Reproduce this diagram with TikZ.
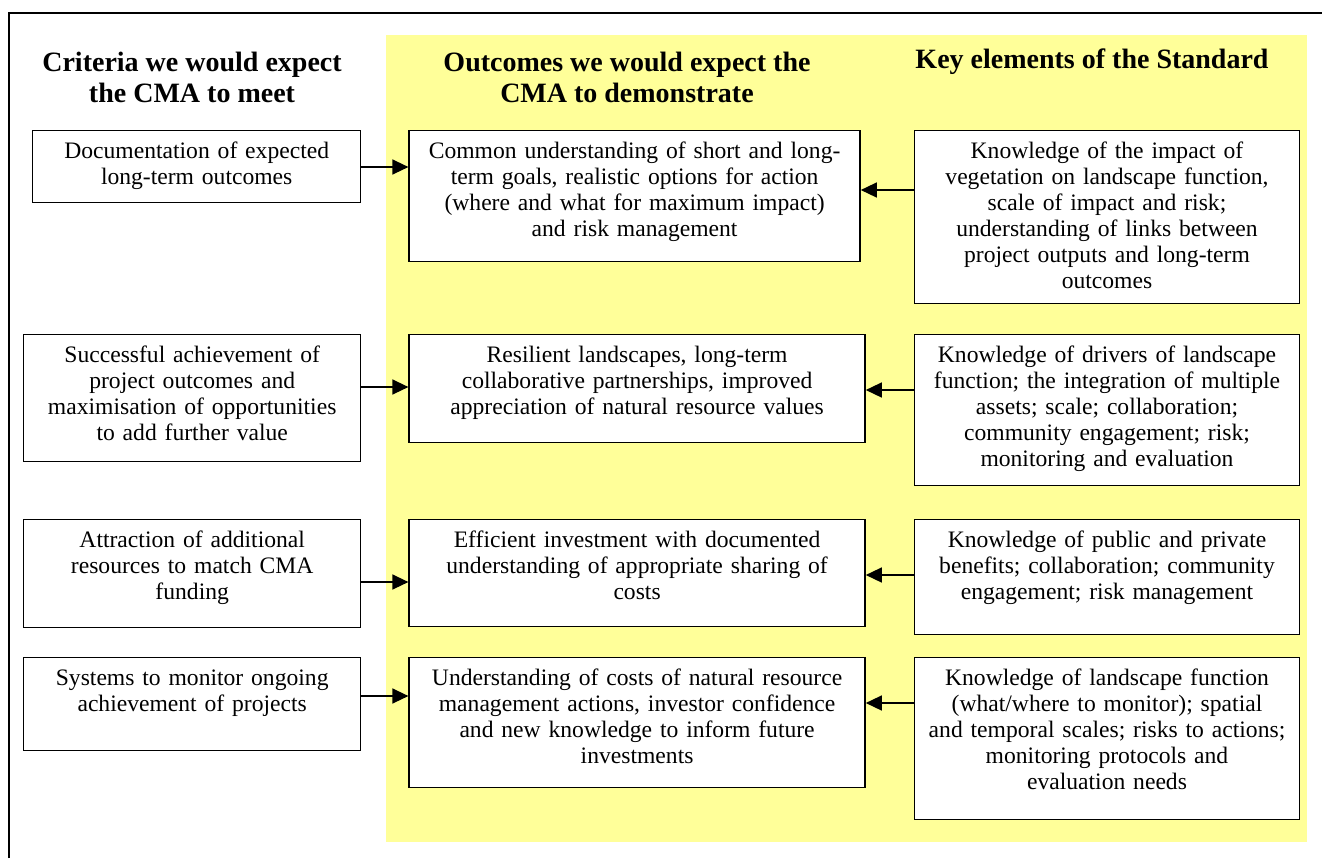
\documentclass[tikz,border=0pt]{standalone}
\usepackage{fontspec}
\setmainfont{Liberation Serif}
\usetikzlibrary{arrows.meta, positioning}
\definecolor{mpale}{HTML}{FFFF99}
\tikzstyle{box} = [rectangle, draw, line width=0.7pt, fill=white, anchor=north west, align=center, inner xsep=3pt, inner ysep=0pt, text height=14pt, font=\fontsize{11.8}{13}\selectfont]
\tikzstyle{criterion} = [box, text width=162.5pt]
\tikzstyle{outcome} = [box, text width=222pt]
\tikzstyle{element} = [box, text width=186.5pt]
\tikzstyle{heading} = [align=center, font=\fontsize{14}{15.5}\selectfont\bfseries]
\tikzstyle{feed} = [line width=0.7pt, -{Triangle[length=8pt, width=7.5pt]}]
\begin{document}
\begin{tikzpicture}[x=0.5pt, y=-0.5pt, node distance=23.5pt]
  \useasboundingbox (0,0) rectangle (1322,858);
  \fill [mpale] (386,35) rectangle (1307,842);
  \draw [line width=1pt] (8.5,858) -- (8.5,12.5) -- (1322,12.5);

  \node (hcrit) [heading] at (192,77.5) {Criteria we would expect\\the CMA to meet};
  \node (hout) [heading] at (627,77.5) {Outcomes we would expect the\\CMA to demonstrate};
  \node (hkey) [heading] at (1092,62) {Key elements of the Standard};

  % row 1
  \node (crit1) [criterion, text width=158pt, text depth=22pt] at (32,130) {Documentation of expected\\long-term outcomes};
  \node (out1) [outcome, text width=219.5pt, text depth=51.5pt, right=of crit1.north east, anchor=north west] {Common understanding of short and long-\\term goals, realistic options for action\\(where and what for maximum impact)\\and risk management};
  \node (key1) [element, text depth=72.5pt, right=26.5pt of out1.north east, anchor=north west] {Knowledge of the impact of\\vegetation on landscape function,\\scale of impact and risk;\\understanding of links between\\project outputs and long-term\\outcomes};
    \draw [feed] ([yshift=-18.5pt]crit1.north east) -- ([yshift=-18.5pt]out1.north west);
    \draw [feed] ([yshift=-30pt]key1.north west) -- ([yshift=-30pt]out1.north east);

  % row 2
  \node (crit2) [criterion, text depth=49.5pt] at (23,334) {Successful achievement of\\project outcomes and\\maximisation of opportunities\\to add further value};
  \node (out2) [outcome, text depth=40pt, right=of crit2.north east, anchor=north west] {Resilient landscapes, long-term\\collaborative partnerships, improved\\appreciation of natural resource values};
  \node (key2) [element, text depth=61.5pt, right=24pt of out2.north east, anchor=north west] {Knowledge of drivers of landscape\\function; the integration of multiple\\assets; scale; collaboration;\\community engagement; risk;\\monitoring and evaluation};
    \draw [feed] ([yshift=-26.5pt]crit2.north east) -- ([yshift=-26.5pt]out2.north west);
    \draw [feed] ([yshift=-28pt]key2.north west) -- ([yshift=-28pt]out2.north east);

  % row 3
  \node (crit3) [criterion, text depth=40pt] at (23,519) {Attraction of additional\\resources to match CMA\\funding};
  \node (out3) [outcome, text depth=39.5pt, right=of crit3.north east, anchor=north west] {Efficient investment with documented\\understanding of appropriate sharing of\\costs};
  \node (key3) [element, text depth=43.5pt, right=24pt of out3.north east, anchor=north west] {Knowledge of public and private\\benefits; collaboration; community\\engagement; risk management};
    \draw [feed] ([yshift=-31.5pt]crit3.north east) -- ([yshift=-31.5pt]out3.north west);
    \draw [feed] ([yshift=-28pt]key3.north west) -- ([yshift=-28pt]out3.north east);

  % row 4
  \node (crit4) [criterion, text depth=32.5pt] at (23,657) {Systems to monitor ongoing\\achievement of projects};
  \node (out4) [outcome, text depth=51pt, right=of crit4.north east, anchor=north west] {Understanding of costs of natural resource\\management actions, investor confidence\\and new knowledge to inform future\\investments};
  \node (key4) [element, text depth=67pt, right=24pt of out4.north east, anchor=north west] {Knowledge of landscape function\\(what/where to monitor); spatial\\and temporal scales; risks to actions;\\monitoring protocols and\\evaluation needs};
    \draw [feed] ([yshift=-19.5pt]crit4.north east) -- ([yshift=-19.5pt]out4.north west);
    \draw [feed] ([yshift=-23pt]key4.north west) -- ([yshift=-23pt]out4.north east);
\end{tikzpicture}
\end{document}
